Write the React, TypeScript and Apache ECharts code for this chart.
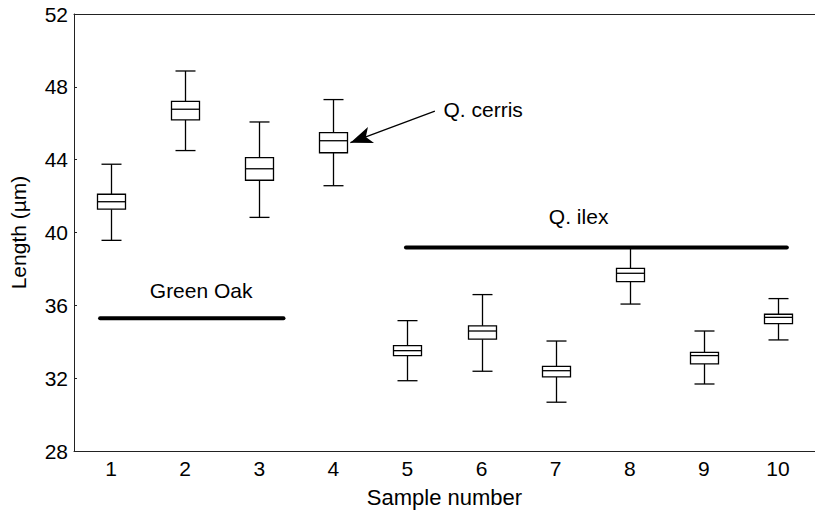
import React, { useEffect, useRef } from "react";
import * as echarts from "echarts";

const sampleLabels = ["1", "2", "3", "4", "5", "6", "7", "8", "9", "10"];
const whiskerLow = [39.57, 44.5, 40.83, 42.57, 31.86, 32.38, 30.68, 36.07, 31.68, 34.1];
const q1 = [41.28, 46.18, 42.87, 44.38, 33.24, 34.14, 32.07, 37.3, 32.78, 34.99];
const median = [41.69, 46.77, 43.5, 45.04, 33.51, 34.59, 32.41, 37.76, 33.24, 35.34];
const q3 = [42.1, 47.2, 44.11, 45.48, 33.79, 34.87, 32.65, 38.03, 33.42, 35.51];
const whiskerHigh = [43.75, 48.87, 46.07, 47.3, 35.16, 36.59, 34.04, 39.2, 34.59, 36.37];

const greenOakLine = [[0.852, 35.29], [3.327, 35.29]];
const ilexLine = [[4.98, 39.17], [10.12, 39.17]];
const arrowFrom = [5.37, 46.67];
const arrowTo = [4.23, 44.93];
const annotations = [
  { name: "Green Oak", value: [2.216, 36.81], align: "center" },
  { name: "Q. ilex", value: [7.31, 40.87], align: "center" },
  { name: "Q. cerris", value: [5.48, 46.77], align: "left" },
];

const FONT = "'Liberation Sans', Arial, sans-serif";

export default function App() {
  const ref = useRef<HTMLDivElement>(null);
  useEffect(() => {
    document.body.style.margin = "0";
    const chart = echarts.init(ref.current!, null, { renderer: "svg" });
    const lineStyle = { stroke: "#000", lineWidth: 1.3, fill: "none" };
    chart.setOption({
      animation: false,
      backgroundColor: "#fff",
      grid: { left: 71, top: 14, bottom: 64, right: -3 },
      xAxis: [
        {
          type: "category",
          data: sampleLabels,
          position: "bottom",
          name: "Sample number",
          nameLocation: "middle",
          nameGap: 35,
          nameTextStyle: { fontSize: 22, color: "#000", fontFamily: FONT },
          axisLine: { lineStyle: { color: "#222", width: 1 } },
          axisTick: { inside: true, length: 3, lineStyle: { color: "#222" } },
          axisLabel: { fontSize: 21, color: "#000", fontFamily: FONT, margin: 7 },
          splitLine: { show: false },
        },
        {
          type: "category",
          data: sampleLabels,
          position: "top",
          axisLine: { lineStyle: { color: "#222", width: 1 } },
          axisTick: { inside: true, length: 3, lineStyle: { color: "#222" } },
          axisLabel: { show: false },
          splitLine: { show: false },
        },
        { type: "value", min: 0.5, max: 10.5, show: false },
      ],
      yAxis: [
        {
          type: "value",
          min: 28,
          max: 52,
          interval: 4,
          name: "Length (µm)",
          nameLocation: "middle",
          nameGap: 45,
          nameTextStyle: { fontSize: 21, color: "#000", fontFamily: FONT },
          axisLine: { show: true, lineStyle: { color: "#222", width: 1 } },
          axisTick: { show: true, inside: true, length: 3, lineStyle: { color: "#222" } },
          axisLabel: { fontSize: 21, color: "#000", fontFamily: FONT, margin: 6 },
          splitLine: { show: false },
        },
      ],
      series: [
        {
          type: "custom",
          xAxisIndex: 0,
          yAxisIndex: 0,
          data: sampleLabels.map((_, i) => [i, whiskerLow[i], q1[i], median[i], q3[i], whiskerHigh[i]]),
          encode: { x: 0, y: [1, 2, 3, 4, 5] },
          renderItem: (params: any, api: any) => {
            const x = api.value(0);
            const lo = api.coord([x, api.value(1)]);
            const a = api.coord([x, api.value(2)]);
            const md = api.coord([x, api.value(3)]);
            const b = api.coord([x, api.value(4)]);
            const hi = api.coord([x, api.value(5)]);
            const cx = Math.round(lo[0]) + 0.5;
            return {
              type: "group",
              children: [
                { type: "line", shape: { x1: cx, y1: hi[1], x2: cx, y2: b[1] }, style: lineStyle },
                { type: "line", shape: { x1: cx, y1: a[1], x2: cx, y2: lo[1] }, style: lineStyle },
                { type: "line", shape: { x1: cx - 10, y1: hi[1], x2: cx + 10, y2: hi[1] }, style: lineStyle },
                { type: "line", shape: { x1: cx - 10, y1: lo[1], x2: cx + 10, y2: lo[1] }, style: lineStyle },
                {
                  type: "rect",
                  shape: { x: cx - 14, y: b[1], width: 28, height: a[1] - b[1] },
                  style: { fill: "#fff", stroke: "#000", lineWidth: 1.3 },
                },
                { type: "line", shape: { x1: cx - 14, y1: md[1], x2: cx + 14, y2: md[1] }, style: lineStyle },
              ],
            };
          },
          z: 3,
        },
        {
          type: "line",
          xAxisIndex: 2,
          yAxisIndex: 0,
          data: greenOakLine,
          symbol: "none",
          lineStyle: { color: "#000", width: 4, cap: "round" },
          z: 2,
        },
        {
          type: "line",
          xAxisIndex: 2,
          yAxisIndex: 0,
          data: ilexLine,
          symbol: "none",
          lineStyle: { color: "#000", width: 4, cap: "round" },
          z: 4,
          markLine: {
            silent: true,
            symbol: ["none", "arrow"],
            symbolSize: [13, 22],
            label: { show: false },
            lineStyle: { color: "#000", width: 1.3, type: "solid" },
            itemStyle: { color: "#000" },
            data: [[{ coord: arrowFrom }, { coord: arrowTo }]],
          },
        },
        {
          type: "scatter",
          xAxisIndex: 2,
          yAxisIndex: 0,
          symbolSize: 1,
          itemStyle: { color: "rgba(0,0,0,0)", opacity: 1 },
          data: annotations.map((d) => ({
            name: d.name,
            value: d.value,
            label: {
              show: true,
              formatter: d.name,
              position: d.align === "left" ? "right" : "inside",
              distance: 0,
              fontSize: 21,
              color: "#000",
              fontFamily: FONT,
            },
          })),
        },
      ],
    });
    return () => chart.dispose();
  }, []);
  return <div ref={ref} style={{ width: 815, height: 515 }} />;
}
